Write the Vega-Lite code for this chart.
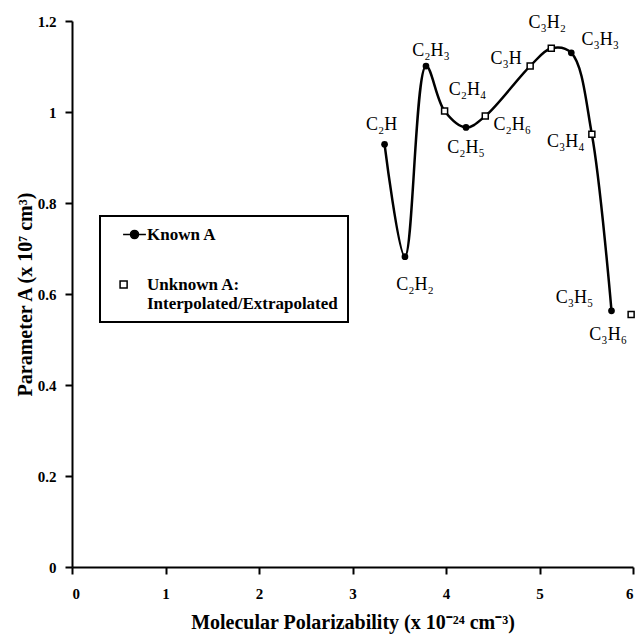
{
  "$schema": "https://vega.github.io/schema/vega-lite/v6.json",
  "width": 561,
  "height": 546,
  "autosize": {"type": "none"},
  "padding": {"left": 72, "top": 21, "right": 6, "bottom": 70},
  "background": "white",
  "config": {
    "view": {"stroke": null},
    "font": "Liberation Serif",
    "axis": {
      "grid": false,
      "domainColor": "black",
      "domainWidth": 2,
      "tickColor": "black",
      "tickWidth": 2,
      "tickSize": 7,
      "labelFont": "Liberation Serif",
      "labelFontWeight": "bold",
      "labelFontSize": 15,
      "labelColor": "black",
      "titleFont": "Liberation Serif",
      "titleFontWeight": "bold",
      "titleFontSize": 20,
      "titleColor": "black",
      "format": "~g"
    }
  },
  "data": {
    "values": [
      {"id": "C2H", "name": "C₂H", "x": 3.343, "y": 0.929, "type": "Known A"},
      {"id": "C2H2", "name": "C₂H₂", "x": 3.561, "y": 0.682, "type": "Known A"},
      {"id": "C2H3", "name": "C₂H₃", "x": 3.786, "y": 1.101, "type": "Known A"},
      {"id": "C2H4", "name": "C₂H₄", "x": 3.985, "y": 1.002, "type": "Unknown A"},
      {"id": "C2H5", "name": "C₂H₅", "x": 4.214, "y": 0.966, "type": "Known A"},
      {"id": "C2H6", "name": "C₂H₆", "x": 4.42, "y": 0.991, "type": "Unknown A"},
      {"id": "C3H", "name": "C₃H", "x": 4.9, "y": 1.101, "type": "Unknown A"},
      {"id": "C3H2", "name": "C₃H₂", "x": 5.126, "y": 1.14, "type": "Unknown A"},
      {"id": "C3H3", "name": "C₃H₃", "x": 5.34, "y": 1.13, "type": "Known A"},
      {"id": "C3H4", "name": "C₃H₄", "x": 5.56, "y": 0.951, "type": "Unknown A"},
      {"id": "C3H5", "name": "C₃H₅", "x": 5.77, "y": 0.563, "type": "Known A"},
      {"id": "C3H6", "name": "C₃H₆", "x": 5.98, "y": 0.555, "type": "Unknown A"}
    ]
  },
  "encoding": {
    "x": {
      "field": "x", "type": "quantitative",
      "scale": {"domain": [0, 6], "nice": false},
      "axis": {"values": [0, 1, 2, 3, 4, 5, 6], "title": "Molecular Polarizability (x 10⁻²⁴ cm⁻³)", "labelPadding": 12, "titleY": 55, "titleBaseline": "middle"}
    },
    "y": {
      "field": "y", "type": "quantitative",
      "scale": {"domain": [0, 1.2], "nice": false},
      "axis": {"values": [0, 0.2, 0.4, 0.6, 0.8, 1, 1.2], "title": "Parameter A (x 10⁷ cm³)", "labelPadding": 9, "titleX": -47, "titleY": 273, "titleBaseline": "middle", "titleAlign": "center"}
    }
  },
  "layer": [
    {
      "transform": [{"filter": "datum.id != 'C3H6'"}],
      "mark": {"type": "line", "interpolate": "catmull-rom", "color": "black", "strokeWidth": 2.5},
      "encoding": {}
    },
    {
      "transform": [{"filter": "datum.type == 'Known A'"}],
      "mark": {"type": "point", "shape": "circle", "filled": true, "color": "black", "size": 45, "opacity": 1},
      "encoding": {}
    },
    {
      "transform": [{"filter": "datum.type == 'Unknown A'"}],
      "mark": {"type": "point", "shape": "square", "filled": false, "fill": "white", "stroke": "black", "strokeWidth": 1.5, "size": 36, "opacity": 1},
      "encoding": {}
    },
    {
      "transform": [{"filter": "false"}],
      "mark": {"type": "point", "filled": false, "color": "black", "stroke": "black", "strokeWidth": 1.5, "opacity": 1},
      "encoding": {
        "shape": {
          "field": "type", "type": "nominal",
          "scale": {"domain": ["Known A", "Unknown A"], "range": ["M-3.4,0H3.4M-1.2,0A1.2,1.2 0 1,1 1.2,0A1.2,1.2 0 1,1 -1.2,0Z", "M-4.3,-1.05H-2.2V1.05H-4.3Z"]},
          "legend": {
            "title": null, "orient": "none", "legendX": 28, "legendY": 195,
            "strokeColor": "black", "padding": 10, "rowPadding": 32,
            "symbolOffset": 16, "symbolSize": 45, "symbolStrokeWidth": 1.5, "symbolStrokeColor": "black",
            "labelFont": "Liberation Serif", "labelFontSize": 17, "labelFontWeight": "bold", "labelColor": "black",
            "labelLimit": 400, "labelOffset": 4, "fillColor": "white",
            "labelExpr": "datum.label == 'Unknown A' ? ['Unknown A:', 'Interpolated/Extrapolated'] : datum.label",
            "encoding": {
              "symbols": {
                "stroke": {"value": "black"},
                "strokeWidth": {"value": 1.5}
              },
              "legend": {"strokeWidth": {"value": 2}}
            }
          }
        },
        "fill": {
          "field": "type", "type": "nominal",
          "scale": {"domain": ["Known A", "Unknown A"], "range": ["black", "white"]},
          "legend": {
            "title": null, "orient": "none", "legendX": 28, "legendY": 195,
            "strokeColor": "black", "padding": 10, "rowPadding": 32,
            "symbolOffset": 16, "symbolSize": 45, "symbolStrokeWidth": 1.5, "symbolStrokeColor": "black",
            "labelFont": "Liberation Serif", "labelFontSize": 17, "labelFontWeight": "bold", "labelColor": "black",
            "labelLimit": 400, "labelOffset": 4, "fillColor": "white",
            "labelExpr": "datum.label == 'Unknown A' ? ['Unknown A:', 'Interpolated/Extrapolated'] : datum.label",
            "encoding": {
              "symbols": {
                "stroke": {"value": "black"},
                "strokeWidth": {"value": 1.5}
              },
              "legend": {"strokeWidth": {"value": 2}}
            }
          }
        }
      }
    },
    {"transform": [{"filter": "datum.id == 'C2H'"}], "mark": {"type": "text", "font": "Liberation Serif", "fontSize": 18, "dx": -3, "dy": -19, "baseline": "middle", "align": "center", "color": "black"}, "encoding": {"text": {"field": "name"}}},
    {"transform": [{"filter": "datum.id == 'C2H2'"}], "mark": {"type": "text", "font": "Liberation Serif", "fontSize": 18, "dx": 10, "dy": 28, "baseline": "middle", "align": "center", "color": "black"}, "encoding": {"text": {"field": "name"}}},
    {"transform": [{"filter": "datum.id == 'C2H3'"}], "mark": {"type": "text", "font": "Liberation Serif", "fontSize": 18, "dx": 5, "dy": -15, "baseline": "middle", "align": "center", "color": "black"}, "encoding": {"text": {"field": "name"}}},
    {"transform": [{"filter": "datum.id == 'C2H4'"}], "mark": {"type": "text", "font": "Liberation Serif", "fontSize": 18, "dx": 23, "dy": -21, "baseline": "middle", "align": "center", "color": "black"}, "encoding": {"text": {"field": "name"}}},
    {"transform": [{"filter": "datum.id == 'C2H5'"}], "mark": {"type": "text", "font": "Liberation Serif", "fontSize": 18, "dx": 0, "dy": 21, "baseline": "middle", "align": "center", "color": "black"}, "encoding": {"text": {"field": "name"}}},
    {"transform": [{"filter": "datum.id == 'C2H6'"}], "mark": {"type": "text", "font": "Liberation Serif", "fontSize": 18, "dx": 27, "dy": 9, "baseline": "middle", "align": "center", "color": "black"}, "encoding": {"text": {"field": "name"}}},
    {"transform": [{"filter": "datum.id == 'C3H'"}], "mark": {"type": "text", "font": "Liberation Serif", "fontSize": 18, "dx": -24, "dy": -7, "baseline": "middle", "align": "center", "color": "black"}, "encoding": {"text": {"field": "name"}}},
    {"transform": [{"filter": "datum.id == 'C3H2'"}], "mark": {"type": "text", "font": "Liberation Serif", "fontSize": 18, "dx": -4, "dy": -25, "baseline": "middle", "align": "center", "color": "black"}, "encoding": {"text": {"field": "name"}}},
    {"transform": [{"filter": "datum.id == 'C3H3'"}], "mark": {"type": "text", "font": "Liberation Serif", "fontSize": 18, "dx": 29, "dy": -13, "baseline": "middle", "align": "center", "color": "black"}, "encoding": {"text": {"field": "name"}}},
    {"transform": [{"filter": "datum.id == 'C3H4'"}], "mark": {"type": "text", "font": "Liberation Serif", "fontSize": 18, "dx": -26, "dy": 8, "baseline": "middle", "align": "center", "color": "black"}, "encoding": {"text": {"field": "name"}}},
    {"transform": [{"filter": "datum.id == 'C3H5'"}], "mark": {"type": "text", "font": "Liberation Serif", "fontSize": 18, "dx": -37, "dy": -13, "baseline": "middle", "align": "center", "color": "black"}, "encoding": {"text": {"field": "name"}}},
    {"transform": [{"filter": "datum.id == 'C3H6'"}], "mark": {"type": "text", "font": "Liberation Serif", "fontSize": 18, "dx": -23, "dy": 21, "baseline": "middle", "align": "center", "color": "black"}, "encoding": {"text": {"field": "name"}}}
  ]
}
